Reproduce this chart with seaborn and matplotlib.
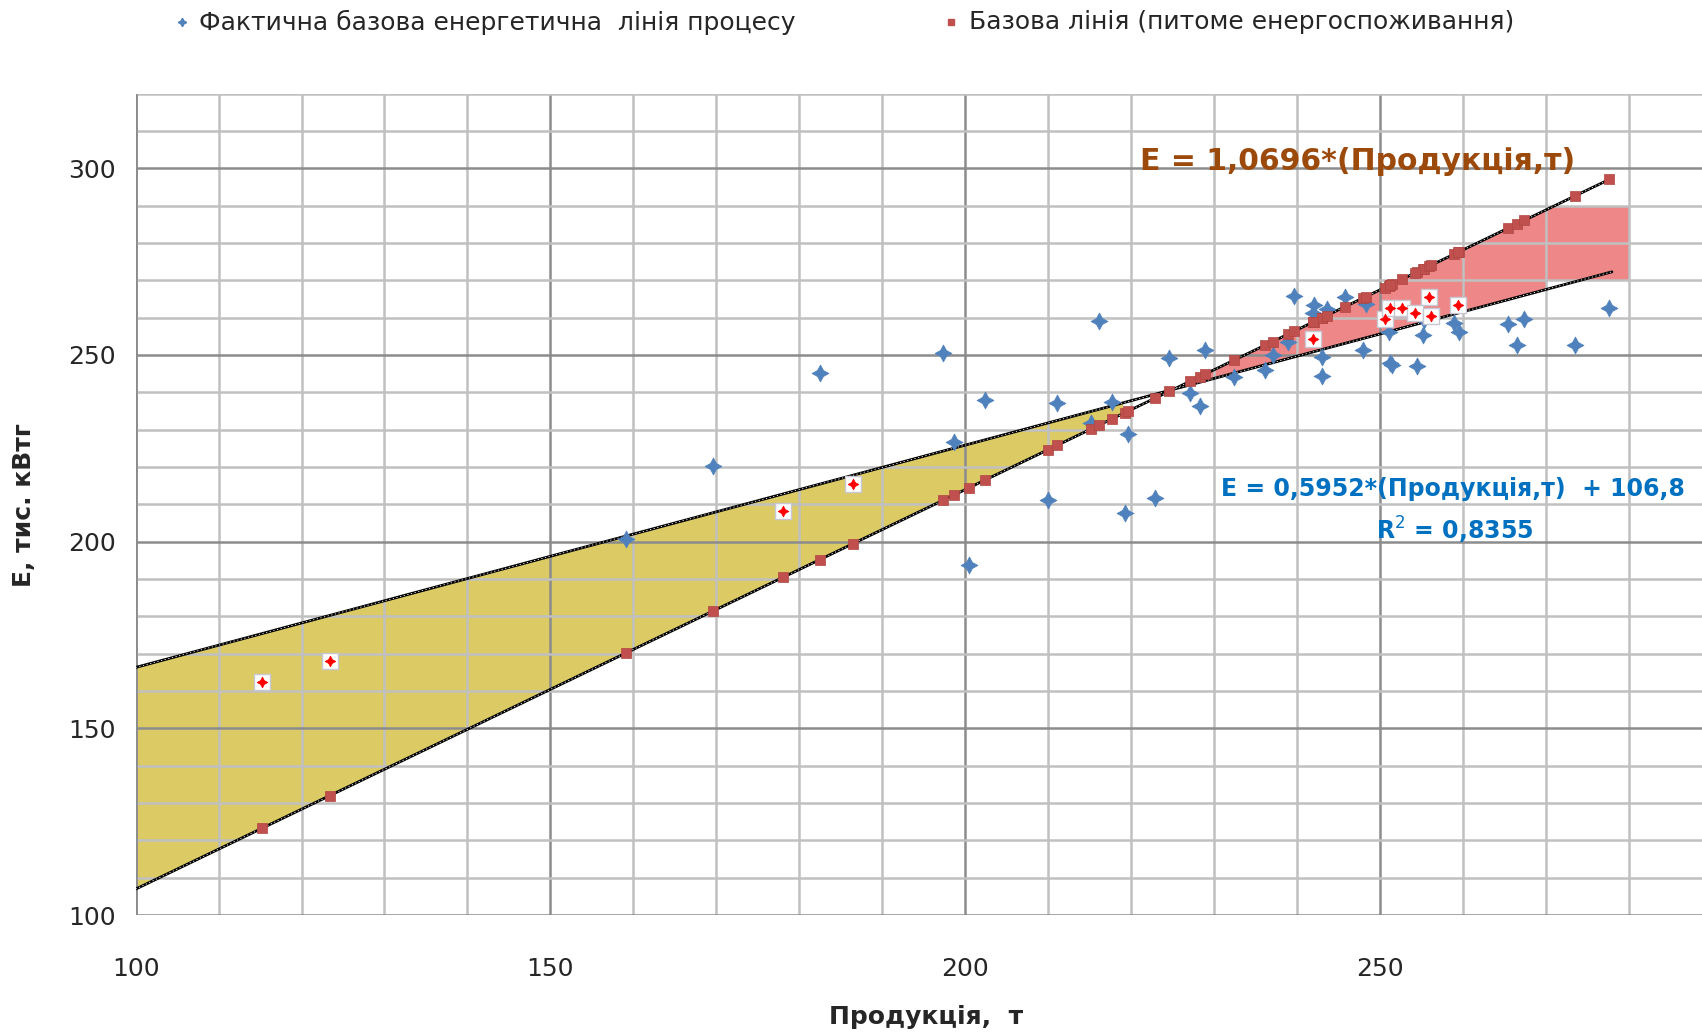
import numpy as np
import pandas as pd
import seaborn as sns
import matplotlib.pyplot as plt
from matplotlib.lines import Line2D

# Actual process points (production, t ; energy, thousand kWh)
actual_x = [159.1, 169.6, 182.5, 197.4, 198.7, 200.5, 202.4, 210.0, 211.1, 215.2,
            216.2, 217.7, 219.3, 219.6, 222.9, 224.6, 227.1, 228.3, 228.9, 232.4,
            236.2, 237.1, 239.0, 239.7, 242.0, 242.1, 243.0, 243.1, 243.6, 245.8,
            248.0, 248.3, 251.1, 251.2, 251.5, 254.5, 255.2, 255.3, 258.9, 259.6,
            265.5, 266.5, 267.4, 273.6, 277.7]
actual_y = [200.6, 220.3, 245.1, 250.6, 226.7, 193.7, 237.9, 211.2, 237.2, 231.9,
            259.1, 237.4, 207.7, 228.8, 211.8, 249.2, 239.8, 236.4, 251.3, 244.2,
            246.1, 250.0, 253.6, 265.9, 261.2, 263.4, 249.5, 244.4, 262.3, 265.5,
            251.3, 263.7, 256.2, 247.8, 247.4, 247.1, 255.3, 259.4, 258.5, 256.2,
            258.3, 252.7, 259.7, 252.7, 262.5]

# Points lying inside the band between the two lines (highlighted)
band_x = [115.2, 123.4, 178.1, 186.5, 241.9, 250.6, 251.2, 252.7, 254.3, 255.9, 256.2, 259.5]
band_y = [162.5, 168.1, 208.3, 215.4, 254.2, 259.6, 262.5, 262.5, 261.3, 265.5, 260.4, 263.3]

# Line equations shown on the chart
base_slope = 1.0696
fit_slope = 0.5952
fit_icept = 106.8
r2 = 0.8355

x_ticks = [100, 150, 200, 250]
y_ticks = [100, 150, 200, 250, 300]

sns.set_theme(style="white")
plt.rcParams["font.family"] = ["DejaVu Sans"]

fig = plt.figure(figsize=(17.02, 10.34), dpi=100)
ax = fig.add_axes([0.0797, 0.1150, 1.00555 - 0.0797, 0.9095 - 0.1150])

all_x = np.array(actual_x + band_x)
base_df = pd.DataFrame({"x": all_x, "y": base_slope * all_x})
act_df = pd.DataFrame({"x": actual_x, "y": actual_y})
band_df = pd.DataFrame({"x": band_x, "y": band_y})

fit = lambda x: fit_slope * x + fit_icept
base = lambda x: base_slope * x

# filled zones
xs = np.linspace(100, 219, 200)
ax.fill_between(xs, base(xs), fit(xs), color="#DCCB65", lw=0, zorder=0.5)
xs = np.linspace(228, 270, 200)
ax.fill_between(xs, fit(xs), np.minimum(base(xs), 290), color="#EE8888", lw=0, zorder=0.5)
ax.fill_between([270, 280], [270, 270], [290, 290], color="#EE8888", lw=0, zorder=0.5)

# grid
for v in np.arange(100, 290, 10):
    c = "#8C8C8C" if v % 50 == 0 else "#C0C0C0"
    ax.axvline(v, color=c, lw=1.8, zorder=1)
for v in np.arange(110, 321, 10):
    c = "#8C8C8C" if v % 50 == 0 else "#C0C0C0"
    ax.axhline(v, color=c, lw=1.8, zorder=1)

# trend lines
lx = np.array([100, 278])
for f in (fit, base):
    ax.plot(lx, f(lx), color="black", lw=2.0, zorder=3)
    ax.plot(lx, f(lx), color="white", lw=0.6, ls=(0, (1.5, 3)), zorder=3.1)

sns.scatterplot(data=act_df, x="x", y="y", ax=ax, marker=(4, 1, 0), s=150,
                color="#4F81BD", edgecolor="#4F81BD", linewidth=0.5, zorder=4, legend=False)
sns.scatterplot(data=base_df, x="x", y="y", ax=ax, marker="s", s=55,
                color="#C0504D", edgecolor="#B04540", linewidth=0.5, zorder=5, legend=False)
sns.scatterplot(data=band_df, x="x", y="y", ax=ax, marker="s", s=120,
                color="white", edgecolor="#C8C8D4", linewidth=1.0, zorder=6, legend=False)
sns.scatterplot(data=band_df, x="x", y="y", ax=ax, marker=(4, 1, 0), s=60,
                color="#FF0000", edgecolor="#FF0000", linewidth=0.5, zorder=7, legend=False)

ax.set_xlim(100, 290)
ax.set_ylim(100, 320)
ax.set_xticks(x_ticks)
ax.set_yticks(y_ticks)
ax.tick_params(axis="both", direction="out", length=8, width=1.5, color="#8C8C8C",
               labelsize=18, pad=6)
ax.tick_params(axis="x", pad=22)
for s in ax.spines.values():
    s.set_visible(False)
ax.axvline(100, color="#8C8C8C", lw=1.8, zorder=1)
ax.axhline(100, color="#8C8C8C", lw=1.8, zorder=1)
ax.set_xlabel("")
ax.set_ylabel("")

fig.text(926 / 1702, 1 - 1017 / 1034, "Продукція,  т", ha="center", va="center",
         fontsize=18, fontweight="bold")
fig.text(24 / 1702, 1 - 505 / 1034, "Е, тис. кВтг", ha="center", va="center",
         fontsize=18, fontweight="bold", rotation=90)

ax.text(1140 / 1702, 1 - 161 / 1034, "E = 1,0696*(Продукція,т)", transform=fig.transFigure,
        ha="left", va="center", fontsize=21.5, fontweight="bold", color="#9C4A0C")
ax.text(1221 / 1702, 1 - 489 / 1034, "E = 0,5952*(Продукція,т)  + 106,8",
        transform=fig.transFigure, ha="left", va="center", fontsize=17,
        fontweight="bold", color="#0070C0")
ax.text(1376 / 1702, 1 - 530 / 1034, "R$^2$ = " + f"{r2:.4f}".replace(".", ","),
        transform=fig.transFigure, ha="left", va="center", fontsize=17,
        fontweight="bold", color="#0070C0")

# legend (top)
fig.add_artist(Line2D([182 / 1702], [1 - 22 / 1034], marker=(4, 1, 0), ms=6,
                      color="#4F81BD", transform=fig.transFigure, ls=""))
fig.text(199 / 1702, 1 - 22 / 1034, "Фактична базова енергетична  лінія процесу",
         ha="left", va="center", fontsize=18)
fig.add_artist(Line2D([951 / 1702], [1 - 22 / 1034], marker="s", ms=5,
                      color="#C0504D", transform=fig.transFigure, ls=""))
fig.text(969 / 1702, 1 - 22 / 1034, "Базова лінія (питоме енергоспоживання)",
         ha="left", va="center", fontsize=18)

fig.savefig("out.png", dpi=100)
